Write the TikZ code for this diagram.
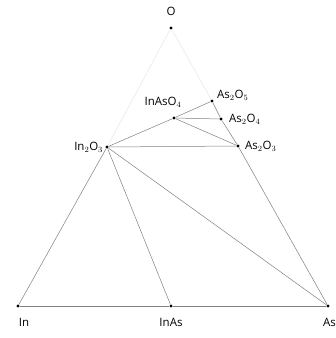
\documentclass[tikz,border=0pt]{standalone}
\usepackage{fontspec}
\setmainfont{Open Sans}
\usetikzlibrary{positioning}

\begin{document}
\begin{tikzpicture}[
  x=1pt,
  y=-1pt,
  phase/.style={
    circle,
    fill=black,
    inner sep=0pt,
    minimum size=3.2pt
  },
  tag/.style={font=\fontsize{11.5}{13}\selectfont, inner sep=1pt},
  tie/.style={draw=black!50, line width=0.5pt},
  faint/.style={draw=black!10, line width=0.5pt}
]
  \useasboundingbox (0,0) rectangle (336,338);

  \node[phase] (o) at (171,28) {};
  \node[phase] (in) at (18,306) {};
  \node[phase] (inas) at (171,306) {};
  \node[phase] (as) at (328,306) {};
  \node[phase] (ino) at (107,147) {};
  \node[phase] (inaso) at (174,118) {};
  \node[phase] (aso5) at (212,101) {};
  \node[phase] (aso4) at (221,119) {};
  \node[phase] (aso3) at (238,146) {};

  \node[tag] (lo) at (171,11) {O};
  \node[tag] (lin) at (24,322) {In};
  \node[tag] (linas) at (171,322) {InAs};
  \node[tag, anchor=east, inner sep=0pt] (las) at (336,322) {As};
  \node[tag, left=1pt of ino] (lino) {In$_2$O$_3$};
  \node[tag] (linaso) at (163,102) {InAsO$_4$};
  \node[tag, anchor=west] (laso5) at (216,95) {As$_2$O$_5$};
  \node[tag, anchor=west] (laso4) at (228,119) {As$_2$O$_4$};
  \node[tag, anchor=west] (laso3) at (244,146) {As$_2$O$_3$};

  % outer triangle
  \draw[faint] (o) -- (ino);
  \draw[faint] (o) -- (aso5);
  \draw[tie] (in) -- (ino);
  \draw[tie] (aso5) -- (aso4) -- (aso3) -- (as);
  \draw[tie] (in) -- (inas) -- (as);

  % tie lines
  \draw[tie] (ino) -- (inaso) -- (aso5);
  \draw[tie] (inaso) -- (aso4);
  \draw[tie] (inaso) -- (aso3);
  \draw[tie] (ino) -- (aso3);
  \draw[tie] (ino) -- (inas);
  \draw[tie] (ino) -- (as);
\end{tikzpicture}
\end{document}
